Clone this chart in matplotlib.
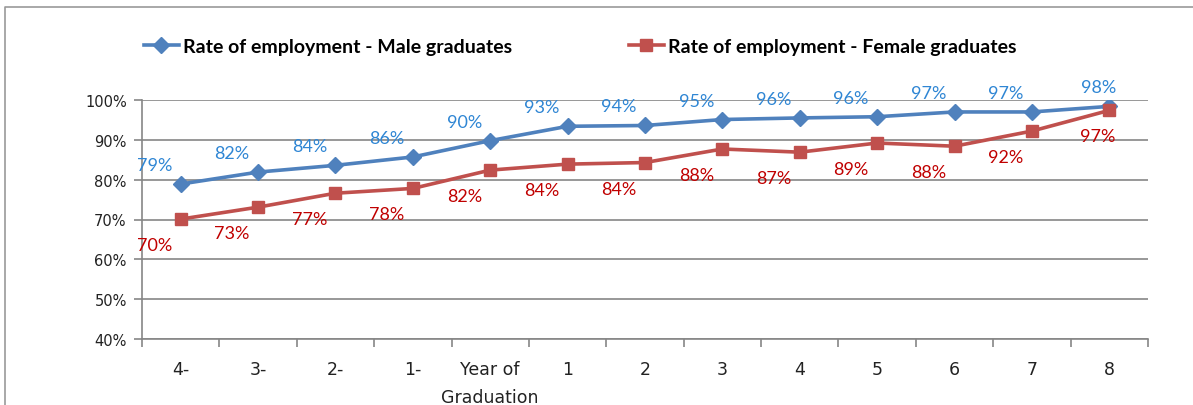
import matplotlib
matplotlib.use("Agg")
import matplotlib.pyplot as plt
from matplotlib.lines import Line2D
from matplotlib.ticker import FixedLocator, PercentFormatter

categories = ["4-", "3-", "2-", "1-", "Year of\nGraduation", "1", "2", "3", "4", "5", "6", "7", "8"]
male = [78.9, 81.9, 83.6, 85.7, 89.8, 93.4, 93.6, 95.1, 95.5, 95.8, 97.0, 97.0, 98.4]
female = [70.1, 73.1, 76.6, 77.8, 82.4, 83.9, 84.3, 87.7, 86.9, 89.2, 88.4, 92.2, 97.4]
male_name = "Rate of employment - Male graduates"
female_name = "Rate of employment - Female graduates"
yticks = [40, 50, 60, 70, 80, 90, 100]

W, H = 1193, 406
fig = plt.figure(figsize=(W / 100, H / 100), dpi=100)
fig.patch.set_facecolor("white")
# outer chart frame (top and left edges visible in the crop)
fig.lines.append(Line2D([5 / W, 5 / W, 1.0], [0.0, 1 - 8 / H, 1 - 8 / H],
                        transform=fig.transFigure, color="#9a9a9a", lw=1.2))

ax = fig.add_axes([142 / W, 1 - 340 / H, (1148 - 142) / W, (340 - 101) / H])
x = list(range(len(categories)))
blue = "#4F81BD"
red = "#C0504D"
l1, = ax.plot(x, male, color=blue, lw=2.6, marker="D", ms=8.5, label=male_name, zorder=3)
l2, = ax.plot(x, female, color=red, lw=2.6, marker="s", ms=8.5, label=female_name, zorder=3)

n = len(categories)
for i, (m, f) in enumerate(zip(male, female)):
    dx = -26 if i < n - 1 else -11
    ax.annotate(f"{m:.0f}%", (i, m), xytext=(dx, 19), textcoords="offset pixels",
                ha="center", va="center", color="#2F86D4", fontsize=13, family="Lato")
    dx2 = -26 if i < n - 1 else -12
    ax.annotate(f"{f:.0f}%", (i, f), xytext=(dx2, -26), textcoords="offset pixels",
                ha="center", va="center", color="#C00000", fontsize=13, family="Lato")

ax.set_xlim(-0.5, n - 0.5)
ax.set_ylim(40, 100)
ax.set_yticks(yticks)
ax.yaxis.set_major_formatter(PercentFormatter(decimals=0))
ax.set_xticks(x)
ax.set_xticklabels(categories, fontsize=12.5, family="DejaVu Sans", color="#222222",
                   linespacing=1.75, va="top")
ax.xaxis.set_minor_locator(FixedLocator([i - 0.5 for i in range(n + 1)]))
ax.tick_params(axis="x", which="major", length=0, pad=15)
ax.tick_params(axis="x", which="minor", length=6, color="#868686", width=1.2)
ax.tick_params(axis="y", length=6, color="#868686", width=1.2, labelsize=10.5,
               labelcolor="#222222", pad=5)
ax.grid(axis="y", color="#868686", lw=1.2)
ax.set_axisbelow(True)
for s in ["top", "right"]:
    ax.spines[s].set_visible(False)
for s in ["left", "bottom"]:
    ax.spines[s].set_color("#868686")
    ax.spines[s].set_linewidth(1.2)

fig.legend(handles=[l1, l2], loc="center", bbox_to_anchor=(580 / W, 1 - 47 / H),
           ncol=2, frameon=False, handlelength=1.8, handletextpad=0.2,
           columnspacing=6.0, prop={"family": "Lato", "weight": "bold", "size": 14})

fig.savefig("out.png", dpi=100)
